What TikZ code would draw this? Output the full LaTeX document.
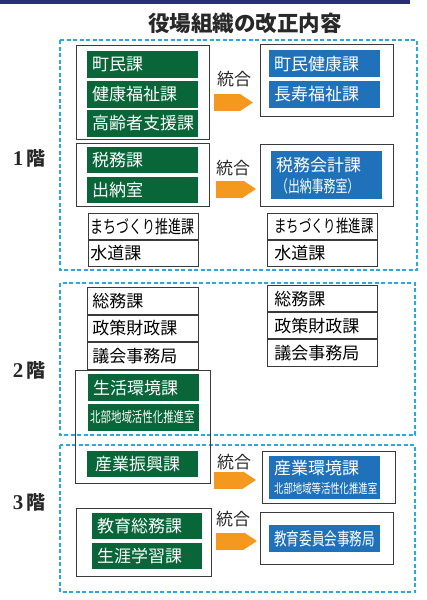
\documentclass[tikz,border=0pt]{standalone}
\usepackage{fontspec}
\usepackage{tikz}
\usetikzlibrary{positioning, arrows.meta}
\newfontfamily\jp{Noto Sans CJK JP}
\newfontfamily\jpnarrow[FakeStretch=0.72]{Noto Sans CJK JP}
\newfontfamily\numfont{Liberation Serif}
\newcommand{\jpsize}[1]{\fontsize{#1}{#1}\selectfont}
\definecolor{rowgreen}{RGB}{8,102,56}
\definecolor{rowblue}{RGB}{31,114,186}
\definecolor{mergeorange}{RGB}{245,152,30}
\definecolor{floorcyan}{RGB}{40,170,225}
\definecolor{topnavy}{RGB}{40,45,120}
\definecolor{boxgray}{RGB}{58,58,58}
\definecolor{labelgray}{RGB}{40,40,40}

\begin{document}
\begin{tikzpicture}[x=1pt, y=-1pt,
   floor/.style={draw=floorcyan, line width=1.6pt, dash pattern=on 4pt off 2.5pt},
   groupbox/.style={draw=boxgray, line width=1pt, anchor=north west, inner sep=0pt},
   greenrow/.style={fill=rowgreen, text=white, anchor=north west, inner xsep=5pt, inner ysep=0pt,
      text width=101pt, minimum height=27pt, align=left, font=\jp\jpsize{17}},
   bluerow/.style={greenrow, fill=rowblue},
   plainrow/.style={draw=boxgray, line width=0.8pt, fill=white, text=black, anchor=north west,
      inner ysep=0pt, align=left, font=\jp\jpsize{17}},
   merge/.style={draw=mergeorange, line width=17pt, -{Triangle[length=13pt, width=17pt, line width=0pt]}},
   mergelabel/.style={text=labelgray, font=\jp\jpsize{17}},
   floorlabel/.style={anchor=east, text=labelgray, font=\jp\bfseries\jpsize{19}}]
   \useasboundingbox (0,0) rectangle (426,600);
   \fill[topnavy] (0,0) rectangle (410,3.5);
   \node[text=labelgray, font=\jp\bfseries\jpsize{21.5}] (title) at (245,23) {役場組織の改正内容};

   \draw[floor] (60,40) rectangle (417,270);
   \draw[floor] (60,283) rectangle (415,435);
   \draw[floor] (60,445) rectangle (415,592);
   \node[floorlabel] (l1) at (49,158) {{\numfont\jpsize{21}1}\,階};
   \node[floorlabel] (l2) at (49,370) {{\numfont\jpsize{21}2}\,階};
   \node[floorlabel] (l3) at (49,502) {{\numfont\jpsize{21}3}\,階};

   \node[groupbox, minimum width=133pt, minimum height=94pt] (g1) at (76,45) {};
   \node[greenrow] (g1a) at (87,51) {町民課};
   \node[greenrow, below=2pt of g1a] (g1b) {健康福祉課};
   \node[greenrow, below=2pt of g1b] (g1c) {高齢者支援課};
   \node[groupbox, minimum width=133pt, minimum height=72pt] (r1) at (260,44) {};
   \node[bluerow] (r1a) at (269,50) {町民健康課};
   \node[bluerow, below=3pt of r1a] (r1b) {長寿福祉課};
   \coordinate (m1) at (0,102.5);
   \draw[merge, shorten <=4pt, shorten >=7pt] (g1.east |- m1) -- (r1.west |- m1);
   \node[mergelabel] (t1) at (234,79) {統合};

   \node[groupbox, minimum width=133pt, minimum height=63pt] (g2) at (76,143) {};
   \node[greenrow, minimum height=26pt] (g2a) at (87,147) {税務課};
   \node[greenrow, minimum height=26pt, below=3pt of g2a] (g2b) {出納室};
   \node[groupbox, minimum width=133pt, minimum height=62pt] (r2) at (260,144) {};
   \node[bluerow, minimum height=48pt] (r2a) at (271,151)
      {税務会計課\\[4pt]{\jpnarrow\jpsize{16.5}（出納事務室）}};
   \coordinate (m2) at (0,189);
   \draw[merge, shorten <=6pt, shorten >=4pt] (g2.east |- m2) -- (r2.west |- m2);
   \node[mergelabel] (t2) at (233,168) {統合};

   \node[plainrow, text width=106pt, inner xsep=2pt, minimum height=26pt] (p1a) at (88,213)
      {\jpnarrow\jpsize{18}まちづくり推進課};
   \node[plainrow, text width=106pt, inner xsep=2pt, minimum height=26pt, below=0pt of p1a] (p1b) {水道課};
   \node[plainrow, text width=96pt, inner xsep=7pt, minimum height=26pt] (q1a) at (267,213)
      {\jpnarrow\jpsize{17.2}まちづくり推進課};
   \node[plainrow, text width=96pt, inner xsep=7pt, minimum height=26pt, below=0pt of q1a] (q1b) {水道課};

   \node[plainrow, text width=101pt, inner xsep=5pt, minimum height=26.7pt] (p2a) at (87,287) {総務課};
   \node[plainrow, text width=101pt, inner xsep=5pt, minimum height=26.7pt, below=0pt of p2a] (p2b) {政策財政課};
   \node[plainrow, text width=101pt, inner xsep=5pt, minimum height=26.7pt, below=0pt of p2b] (p2c) {議会事務局};
   \node[plainrow, text width=96pt, inner xsep=7pt, minimum height=26.3pt] (q2a) at (267,285) {総務課};
   \node[plainrow, text width=96pt, inner xsep=7pt, minimum height=26.3pt, below=0pt of q2a] (q2b) {政策財政課};
   \node[plainrow, text width=96pt, inner xsep=7pt, minimum height=26.3pt, below=0pt of q2b] (q2c) {議会事務局};

   \node[groupbox, minimum width=135pt, minimum height=113pt] (g3) at (75,370) {};
   \node[greenrow] (g3a) at (88,374) {生活環境課};
   \node[greenrow, below=2pt of g3a, text width=107pt, inner xsep=2pt, font=\jpnarrow\jpsize{14.5}] (g3b)
      {北部地域活性化推進室};
   \node[greenrow, minimum height=26pt, text width=95pt, inner xsep=8pt] (g3c) at (87,451) {産業振興課};
   \node[groupbox, minimum width=133pt, minimum height=52pt] (r3) at (262,451) {};
   \node[bluerow, minimum height=43pt] (r3a) at (269,456)
      {産業環境課\\[2pt]{\jpnarrow\jpsize{13}北部地域等活性化推進室}};
   \coordinate (m3) at (0,480);
   \draw[merge, shorten <=3pt, shorten >=6pt] (g3.east |- m3) -- (r3.west |- m3);
   \node[mergelabel] (t3) at (234,462) {統合};

   \node[groupbox, minimum width=135pt, minimum height=68pt] (g4) at (76,508) {};
   \node[greenrow, minimum height=26pt, text width=100pt] (g4a) at (92,513) {教育総務課};
   \node[greenrow, minimum height=26pt, text width=100pt, below=3pt of g4a] (g4b) {生涯学習課};
   \node[groupbox, minimum width=133pt, minimum height=52pt] (r4) at (260,512) {};
   \node[bluerow] (r4a) at (269,525) {\jpnarrow\jpsize{17.5}教育委員会事務局};
   \coordinate (m4) at (0,541);
   \draw[merge, shorten <=4pt, shorten >=3pt] (g4.east |- m4) -- (r4.west |- m4);
   \node[mergelabel] (t4) at (233,519) {統合};
\end{tikzpicture}
\end{document}
